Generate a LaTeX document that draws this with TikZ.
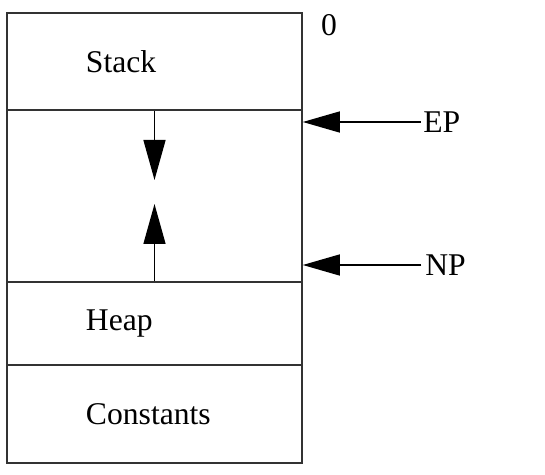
\documentclass[tikz,border=0pt]{standalone}
\usepackage{fontspec}
\setmainfont{Liberation Serif}
\usetikzlibrary{arrows.meta}
\definecolor{memline}{RGB}{51,51,51}

\begin{document}
\begin{tikzpicture}[
  segment/.style={draw=memline, line width=0.9pt, minimum width=5.9cm, text width=2.74cm, inner xsep=1.58cm, align=left, font=\fontsize{18}{22}\selectfont},
  ptr/.style={-{Triangle[length=0.74cm, width=0.42cm]}, line width=0.8pt, black},
  growth/.style={-{Triangle[length=0.8cm, width=0.44cm]}, line width=0.8pt, black},
  ptrlabel/.style={font=\fontsize{18}{22}\selectfont, inner sep=0pt}
]
\useasboundingbox (0,0) rectangle (10.9,-9.5);

% Memory segments
\node[segment, minimum height=1.94cm] (stack) at (3.09, -1.23) {Stack};
\node[segment, minimum height=3.44cm] (free) at (3.09, -3.92) {};
\node[segment, minimum height=1.66cm] (heap) at (3.09, -6.47) {Heap};
\node[segment, minimum height=1.96cm] (consts) at (3.09, -8.28) {Constants};

% Growth directions
\coordinate (downtip) at (3.09, -3.6);
\coordinate (uptip) at (3.09, -4.08);
\draw[growth] (stack.south) -- (downtip);
\draw[growth] (heap.north) -- (uptip);

% Pointers
\node[ptrlabel, anchor=west] (ep) at (8.46, -2.44) {EP};
\node[ptrlabel, anchor=west] (np) at (8.5, -5.3) {NP};
\draw[ptr] ([xshift=-1.2pt]ep.west) -- (ep.west -| free.east);
\draw[ptr] ([xshift=-2pt]np.west) -- (np.west -| free.east);

% Address
\node[ptrlabel] (zero) at (6.58, -0.5) {0};
\end{tikzpicture}
\end{document}
